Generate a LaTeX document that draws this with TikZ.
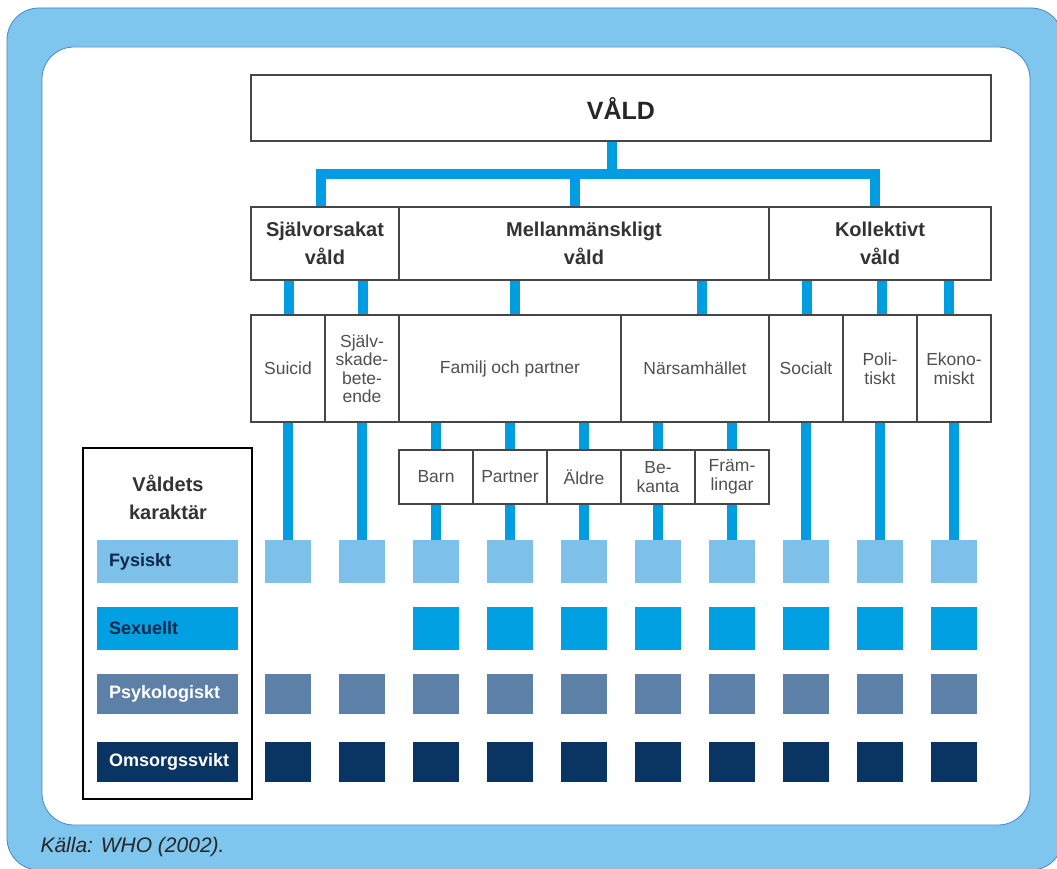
\documentclass[tikz,border=0pt]{standalone}
\usepackage{fontspec}
\setmainfont{Liberation Sans}
\usepackage{tikz}
\definecolor{frameCol}{RGB}{127,198,238}
\definecolor{frameLine}{RGB}{70,135,200}
\definecolor{linkCol}{RGB}{0,158,224}
\definecolor{boxLine}{RGB}{70,70,70}
\definecolor{txtGray}{RGB}{80,80,80}
\definecolor{fysCol}{RGB}{125,192,234}
\definecolor{sexCol}{RGB}{0,160,227}
\definecolor{psyCol}{RGB}{92,128,168}
\definecolor{omsCol}{RGB}{10,52,98}
\definecolor{navyTxt}{RGB}{12,40,75}
\tikzset{myFrame/.style={fill=frameCol, draw=frameLine, line width=0.8pt, rounded corners=32pt}}
\tikzset{myBox/.style={draw=boxLine, line width=1.3pt, fill=white, inner sep=0pt, align=center, text=txtGray, font=\fontsize{17.5}{18.5}\selectfont}}
\tikzset{myHead/.style={myBox, minimum height=73pt, text=black!80, font=\bfseries\fontsize{20}{28}\selectfont}}
\tikzset{myLink/.style={color=linkCol, line width=10pt}}
\tikzset{mySq/.style={minimum width=46pt, inner sep=0pt, outer sep=0pt}}
\tikzset{myKey/.style={minimum width=141pt, inner xsep=12pt, inner ysep=0pt, outer sep=0pt, text width=117pt, align=left, font=\bfseries\fontsize{18}{19}\selectfont}}

\begin{document}
\begin{tikzpicture}[x=1pt, y=-1pt]

	\useasboundingbox (0,0) rectangle (1057,869);
	\fill[white] (0,0) rectangle (1057,869);
	\draw[myFrame] (7,8) rectangle (1063,870);
	\draw[myFrame, fill=white] (42,47) rectangle (1030,825);

	\node[myBox, minimum width=740pt, minimum height=66pt, text=black!85, font=\bfseries\fontsize{25}{30}\selectfont] (vald) at (621,108) {VÅLD};

	% level 2
	\node[myHead, minimum width=148pt] (sjalv) at (325,243.5) {Självorsakat\\våld};
	\node[myHead, minimum width=370pt] (mellan) at (584,243.5) {Mellanmänskligt\\våld};
	\node[myHead, minimum width=222pt] (kollek) at (880,243.5) {Kollektivt\\våld};

	% level 3
	\foreach \nm/\cx/\w/\txt in {suicid/288/74/Suicid, skada/362/74/{Själv-\\skade-\\bete-\\ende}, familj/510/222/Familj och partner, narsam/695/148/Närsamhället, social/806/74/Socialt, polit/880/74/{Poli-\\tiskt}, ekon/954/74/{Ekono-\\miskt}}{
		\node[myBox, minimum width=\w pt, minimum height=107pt] (\nm) at (\cx,368.5) {\txt};
	}

	% level 4
	\foreach \nm/\c/\txt in {barn/3/Barn, partner/4/Partner, aldre/5/Äldre, bekant/6/{Be-\\kanta}, framl/7/{Främ-\\lingar}}{
		\node[myBox, minimum width=74pt, minimum height=54pt] (\nm) at ({214+74*\c},477) {\txt};
	}

	% legend and squares
	\node[draw, line width=2.5pt, minimum width=169pt, minimum height=351pt] (legend) at (167.5,623.5) {};
	\node[align=center, text=black!80, font=\bfseries\fontsize{20}{28}\selectfont] (ktitle) at (168,497) {Våldets\\karaktär};
	\foreach \r/\cy/\h/\col/\tc/\first/\txt in {fys/561.5/43/fysCol/navyTxt/1/Fysiskt, sex/628.5/43/sexCol/navyTxt/3/Sexuellt, psy/694/40/psyCol/white/1/Psykologiskt, oms/762/40/omsCol/white/1/Omsorgssvikt}{
		\node[myKey, fill=\col, text=\tc, minimum height=\h pt] (key-\r) at (167.5,\cy) {\txt};
		\foreach \c in {\first,...,10}{
			\node[mySq, fill=\col, minimum height=\h pt] (\r-\c) at ({214+74*\c},\cy) {};
		}
	}

	% connectors
	\coordinate (hub) at (612,174);
	\draw[myLink] (vald.south -| hub) -- (hub);
	\draw[myLink] ([xshift=-4pt]sjalv.north) |- (hub) -| ([xshift=-5pt]kollek.north);
	\draw[myLink] ([xshift=-9pt]mellan.north) -- ([xshift=-9pt]mellan.north |- hub);

	\foreach \p/\ch/\dx in {sjalv/suicid/1, sjalv/skada/1, mellan/familj/5, mellan/narsam/7, kollek/social/1, kollek/polit/2, kollek/ekon/-5}{
		\draw[myLink] ([xshift=\dx pt]\ch.north) -- ([xshift=\dx pt]\ch.north |- \p.south);
	}
	\foreach \p/\ch in {familj/barn, familj/partner, familj/aldre, narsam/bekant, narsam/framl}{
		\draw[myLink] (\ch.north) -- (\ch.north |- \p.south);
	}
	\foreach \p/\c in {suicid/1, skada/2, barn/3, partner/4, aldre/5, bekant/6, framl/7, social/8, polit/9, ekon/10}{
		\draw[myLink] (fys-\c.north) -- (fys-\c.north |- \p.south);
	}

	\node[anchor=west, text=black!85, font=\itshape\fontsize{21}{24}\selectfont] (source) at (37,847) {Källa: WHO (2002).};
\end{tikzpicture}
\end{document}
